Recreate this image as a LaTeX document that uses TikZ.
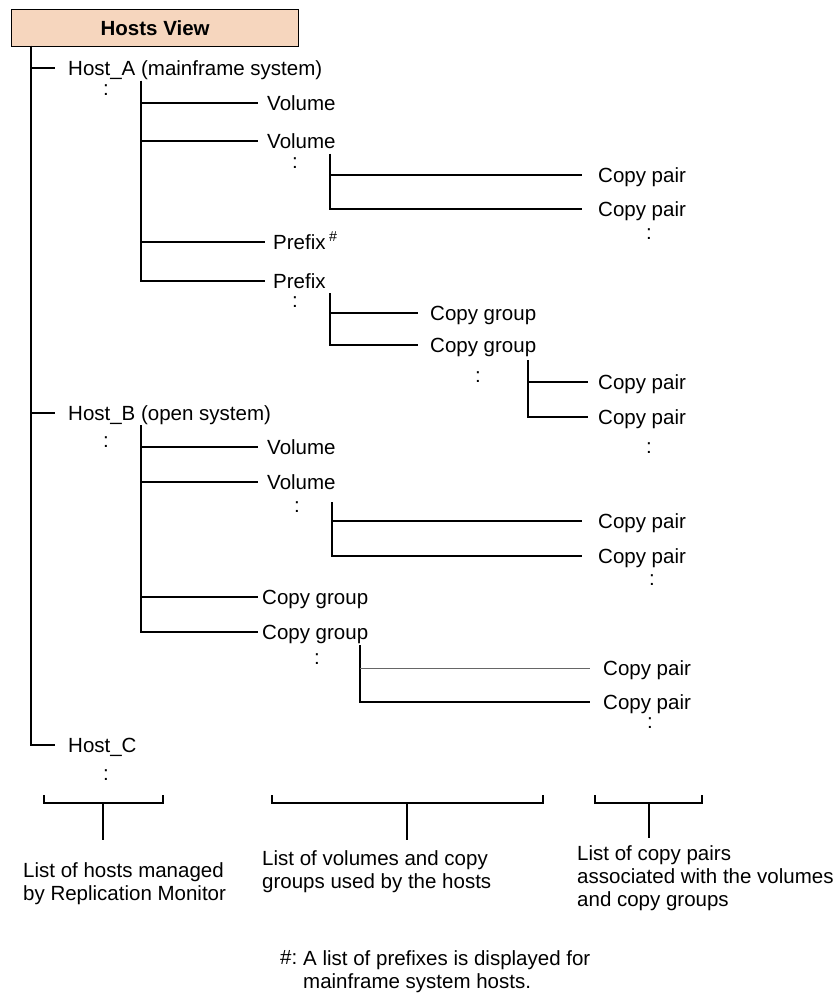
\documentclass[tikz,border=0pt]{standalone}
\usepackage{fontspec}
\setmainfont{Liberation Sans}
\definecolor{titlefill}{RGB}{246,214,190}
\begin{document}
\begin{tikzpicture}[x=1pt,y=-1pt,
  every node/.style={font=\fontsize{20.5}{23}\selectfont},
  branch/.style={line width=1.7pt, black},
  faint branch/.style={line width=0.9pt, black!60},
  lbl/.style={anchor=west, inner xsep=#1, inner ysep=0pt, text height=15pt, text depth=0pt},
  lbl/.default=10pt,
  more/.style={inner sep=0pt, anchor=center},
  note/.style={anchor=north west, inner sep=0pt, align=left},
  ]
\useasboundingbox (0,0) rectangle (835,995);

% title bar
\node[draw, line width=1.3pt, fill=titlefill, anchor=north west, inner sep=0pt,
      minimum width=287pt, minimum height=37pt,
      font=\bfseries\fontsize{20.5}{23}\selectfont] (title) at (11,9) {Hosts View};

% ---------- hosts ----------
\node[lbl=13pt] (hostA) at (55,68)  {Host\_A (mainframe system)};
\node[lbl=13pt] (hostB) at (55,413) {Host\_B (open system)};
\node[lbl=13pt] (hostC) at (55,745) {Host\_C};
\node[more] (dotsA) at (106,90)  {:};
\node[more] (dotsB) at (106,442) {:};
\node[more] (dotsC) at (106,775) {:};

\coordinate (trunk) at (31,46);
\draw[branch] (trunk) |- (hostA.west);
\draw[branch] (trunk) |- (hostB.west);
\draw[branch] (trunk) |- (hostC.west);

% ---------- Host_A: volumes and prefixes ----------
\node[lbl=9pt] (volA1) at (258,103) {Volume};
\node[lbl=9pt] (volA2) at (258,141) {Volume};
\node[lbl=8pt] (preA1) at (265,242) {Prefix\,\textsuperscript{\#}};
\node[lbl=8pt] (preA2) at (265,281) {Prefix};
\node[more] (dotsVolA2) at (295,163) {:};
\node[more] (dotsPreA2) at (295,302) {:};

\coordinate (levA) at (141,81);
\draw[branch] (levA) |- (volA1.west);
\draw[branch] (levA) |- (volA2.west);
\draw[branch] (levA) |- (preA1.west);
\draw[branch] (levA) |- (preA2.west);

% copy pairs of the second volume
\node[lbl=16pt] (cpA1) at (582,175) {Copy pair};
\node[lbl=16pt] (cpA2) at (582,209) {Copy pair};
\node[more] (dotsCpA) at (649,234) {:};
\coordinate (levVolA) at (330,154);
\draw[branch] (levVolA) |- (cpA1.west);
\draw[branch] (levVolA) |- (cpA2.west);

% copy groups of the second prefix
\node[lbl=12pt] (cgA1) at (418,313) {Copy group};
\node[lbl=12pt] (cgA2) at (418,345) {Copy group};
\node[more] (dotsCgA2) at (478,377) {:};
\coordinate (levPreA) at (330,293);
\draw[branch] (levPreA) |- (cgA1.west);
\draw[branch] (levPreA) |- (cgA2.west);

% copy pairs of the second copy group
\node[lbl=10pt] (cpA3) at (588,382) {Copy pair};
\node[lbl=10pt] (cpA4) at (588,417) {Copy pair};
\node[more] (dotsCpA4) at (649,448) {:};
\coordinate (levCgA) at (528,360);
\draw[branch] (levCgA) |- (cpA3.west);
\draw[branch] (levCgA) |- (cpA4.west);

% ---------- Host_B: volumes and copy groups ----------
\node[lbl=9pt] (volB1) at (258,447) {Volume};
\node[lbl=9pt] (volB2) at (258,482) {Volume};
\node[lbl=4pt] (cgB1) at (258,597) {Copy group};
\node[lbl=4pt] (cgB2) at (258,632) {Copy group};
\node[more] (dotsVolB2) at (297,507) {:};
\node[more] (dotsCgB2) at (317,659) {:};

\coordinate (levB) at (141,425);
\draw[branch] (levB) |- (volB1.west);
\draw[branch] (levB) |- (volB2.west);
\draw[branch] (levB) |- (cgB1.west);
\draw[branch] (levB) |- (cgB2.west);

% copy pairs of the second volume
\node[lbl=16pt] (cpB1) at (582,521) {Copy pair};
\node[lbl=16pt] (cpB2) at (582,556) {Copy pair};
\node[more] (dotsCpB2) at (652,580) {:};
\coordinate (levVolB) at (332,502);
\draw[branch] (levVolB) |- (cpB1.west);
\draw[branch] (levVolB) |- (cpB2.west);

% copy pairs of the second copy group
\node[lbl=13pt] (cpB3) at (590,668) {Copy pair};
\node[lbl=13pt] (cpB4) at (590,702) {Copy pair};
\node[more] (dotsCpB4) at (650,723) {:};
\coordinate (levCgB) at (360,645);
\coordinate (kneeCgB) at (360,668);
\draw[branch] (levCgB) |- (cpB4.west);
\draw[faint branch] (kneeCgB) -- (cpB3.west);

% ---------- legend brackets ----------
\node[note] (lstHosts) at (23,862)
  {List of hosts managed\\by Replication Monitor};
\node[note] (lstVols) at (262,850)
  {List of volumes and copy\\groups used by the hosts};
\node[note] (lstPairs) at (577,845)
  {List of copy pairs\\associated with the volumes\\and copy groups};

\coordinate (b1l) at (44,795);
\coordinate (b1r) at (163,795);
\coordinate (b1m) at (103,803);
\coordinate (b1s) at (103,840);
\draw[branch] (b1l) |- (b1m) -| (b1r);
\draw[branch] (b1m) -- (b1s);

\coordinate (b2l) at (272,795);
\coordinate (b2r) at (543,795);
\coordinate (b2m) at (407,803);
\coordinate (b2s) at (407,840);
\draw[branch] (b2l) |- (b2m) -| (b2r);
\draw[branch] (b2m) -- (b2s);

\coordinate (b3l) at (595,795);
\coordinate (b3r) at (702,795);
\coordinate (b3m) at (649,803);
\coordinate (b3s) at (649,838);
\draw[branch] (b3l) |- (b3m) -| (b3r);
\draw[branch] (b3m) -- (b3s);

% ---------- footnote ----------
\node[note] (fnMark) at (280,950) {\#:};
\node[note] (fnText) at (303,950)
  {A list of prefixes is displayed for\\mainframe system hosts.};
\end{tikzpicture}
\end{document}
